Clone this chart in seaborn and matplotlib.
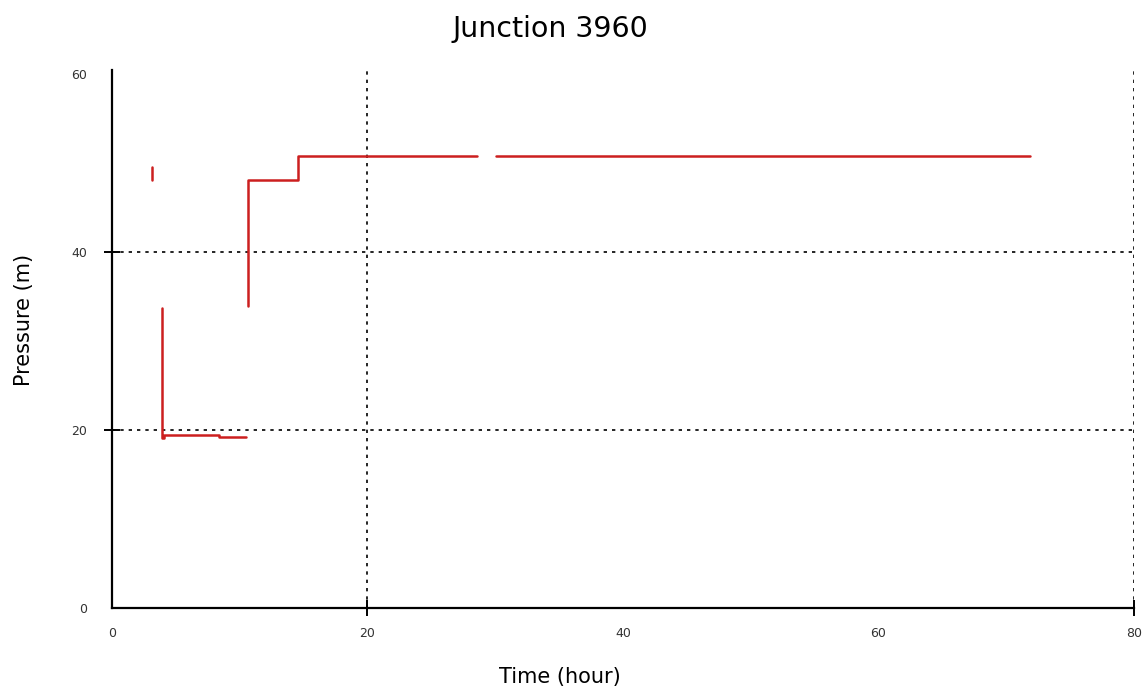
import pandas as pd
import matplotlib
matplotlib.use("Agg")
import matplotlib.pyplot as plt
import seaborn as sns

# Pressure time series for Junction 3960, split where the record has gaps
seg_ids = [0, 0,
           1, 1, 1, 1, 1, 1, 1,
           2, 2, 2, 2, 2,
           3, 3]
time_hr = [3.1, 3.1,
           3.9, 3.9, 4.1, 4.1, 8.4, 8.4, 10.5,
           10.65, 10.65, 14.6, 14.6, 28.6,
           30.1, 71.9]
pressure_m = [49.6, 48.1,
              33.7, 19.1, 19.1, 19.4, 19.4, 19.2, 19.2,
              33.9, 48.1, 48.1, 50.8, 50.8,
              50.8, 50.8]

x_ticks = [0, 20, 40, 60, 80]
y_ticks = [0, 20, 40, 60]
x_grid = [20, 80]
y_grid = [20, 40]

df = pd.DataFrame({"seg": seg_ids, "time": time_hr, "pressure": pressure_m})

sns.set_style("white")
plt.rcParams["font.family"] = ["DejaVu Sans"]
plt.rcParams["text.color"] = "black"
plt.rcParams["axes.labelcolor"] = "black"

fig = plt.figure(figsize=(11.46, 6.92), dpi=100)
ax = fig.add_axes([0.0977, 0.1214, 0.8918, 0.7769])

sns.lineplot(data=df, x="time", y="pressure", units="seg", estimator=None,
             color="#cc1f1f", linewidth=1.8, sort=False, ax=ax)

for gx in x_grid:
    ax.axvline(gx, color="black", linestyle=(0, (2, 3)), linewidth=1.2, zorder=0)
for gy in y_grid:
    ax.axhline(gy, color="black", linestyle=(0, (2, 3)), linewidth=1.2, zorder=0)

ax.set_xlim(0, 80)
ax.set_ylim(0, 60.4)
# labels on every major tick, tick marks only where a grid line crosses
ax.xaxis.remove_overlapping_locs = False
ax.yaxis.remove_overlapping_locs = False
ax.set_xticks(x_ticks)
ax.set_yticks(y_ticks)
ax.set_xticks(x_grid, minor=True)
ax.set_yticks(y_grid, minor=True)
ax.tick_params(axis="both", which="major", bottom=True, left=True, length=0,
               labelsize=9, labelcolor="#333333")
ax.tick_params(axis="both", which="minor", bottom=True, left=True,
               direction="inout", length=12, width=1.4, color="black")
ax.tick_params(axis="x", which="major", pad=14)
ax.tick_params(axis="y", which="major", pad=18)

for side in ["top", "right"]:
    ax.spines[side].set_visible(False)
for side in ["left", "bottom"]:
    ax.spines[side].set_color("black")
    ax.spines[side].set_linewidth(1.6)

fig.suptitle("Junction 3960", fontsize=20.5, x=0.48, y=0.978, va="top")
ax.set_xlabel("Time (hour)", fontsize=15)
ax.set_ylabel("Pressure (m)", fontsize=15)
ax.xaxis.set_label_coords(0.438, -0.110)
ax.yaxis.set_label_coords(-0.076, 0.535)

fig.savefig("out.png", dpi=100)
